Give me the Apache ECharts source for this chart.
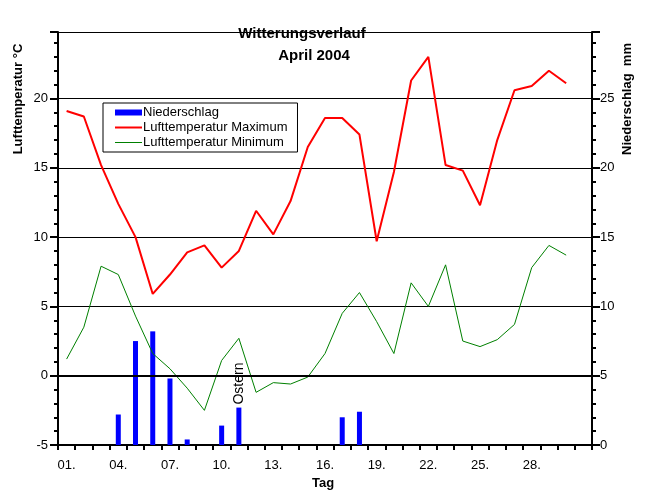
<!DOCTYPE html>
<html>
<head>
<meta charset="utf-8">
<script src="https://cdn.jsdelivr.net/npm/echarts@6/dist/echarts.min.js"></script>
<style>
html,body{margin:0;padding:0;background:#fff;}
#c{width:645px;height:495px;}
</style>
</head>
<body>
<div id="c"></div>
<script>
// ---- data ----
const days = ['01','02','03','04','05','06','07','08','09','10','11','12','13','14','15','16','17','18','19','20','21','22','23','24','25','26','27','28','29','30','31'];
const xTickLabels = ['01.','04.','07.','10.','13.','16.','19.','22.','25.','28.'];
const tempMax = [19.1,18.7,15.2,12.4,10.0,5.9,7.3,8.9,9.4,7.8,9.0,11.9,10.2,12.6,16.5,18.6,18.6,17.4,9.7,14.7,21.3,23.0,15.2,14.8,12.3,17.0,20.6,20.9,22.0,21.1];
const tempMin = [1.2,3.5,7.9,7.3,4.3,1.6,0.5,-0.9,-2.5,1.1,2.7,-1.2,-0.5,-0.6,-0.1,1.6,4.5,6.0,3.9,1.6,6.7,5.0,8.0,2.5,2.1,2.6,3.7,7.8,9.4,8.7];
const precip = [0,0,0,2.2,7.5,8.2,4.8,0.4,0,1.4,2.7,0,0,0,0,0,2.0,2.4,0,0,0,0,0,0,0,0,0,0,0,0];
const tempTicks = [-5,0,5,10,15,20];
const precipTicks = [0,5,10,15,20,25];
const eventDay = '11';
const eventLabel = 'Ostern';
const seriesNames = ['Niederschlag','Lufttemperatur Maximum','Lufttemperatur Minimum'];

const FONT = '"Liberation Sans", Arial, sans-serif';
const chart = echarts.init(document.getElementById('c'), null, {renderer:'canvas'});

const precipData = precip.map((v, i) => {
  if (days[i] === eventDay) {
    return {
      value: v,
      label: {
        show: true, position: 'top', rotate: 90, distance: 3,
        align: 'left', verticalAlign: 'middle',
        formatter: eventLabel, color: '#000', fontSize: 14, fontFamily: FONT
      }
    };
  }
  return v === 0 ? null : v;
});

const option = {
  animation: false,
  backgroundColor: '#fff',
  grid: {left: 58, right: 53, top: 32, bottom: 50, containLabel: false},
  legend: {
    left: 103, top: 103,
    orient: 'vertical',
    backgroundColor: '#fff',
    borderColor: '#000', borderWidth: 1,
    padding: [3, 10, 3, 12],
    itemWidth: 27, itemHeight: 6, itemGap: 2,
    textStyle: {fontSize: 13, fontFamily: FONT, color: '#000', padding: [0,0,0,-4]},
    data: [
      {name: seriesNames[0], icon: 'rect'},
      {name: seriesNames[1], icon: 'path://M0,0H27V2H0Z'},
      {name: seriesNames[2], icon: 'path://M0,0H27V1H0Z'}
    ]
  },
  xAxis: {
    type: 'category',
    data: days,
    boundaryGap: true,
    axisLine: {onZero: false, lineStyle: {color: '#000', width: 2}},
    axisTick: {show: true, interval: 0, length: 5, lineStyle: {color: '#000', width: 2}},
    axisLabel: {
      interval: 0, margin: 14, fontSize: 13, fontFamily: FONT, color: '#000',
      formatter: (v) => xTickLabels.indexOf(v + '.') >= 0 ? v + '.' : ''
    },
    splitLine: {show: false}
  },
  yAxis: [
    {
      type: 'value', min: tempTicks[0], max: 24.8, interval: 5,
      axisLine: {show: true, lineStyle: {color: '#000', width: 2}},
      axisTick: {show: true, length: 8, lineStyle: {color: '#000', width: 2}},
      minorTick: {show: true, splitNumber: 5, length: 4, lineStyle: {color: '#000', width: 2}},
      axisLabel: {margin: 10, fontSize: 13, fontFamily: FONT, color: '#000',
        formatter: (v) => tempTicks.indexOf(v) >= 0 ? String(v) : ''},
      splitLine: {show: true, lineStyle: {color: '#000', width: 1}}
    },
    {
      type: 'value', min: precipTicks[0], max: 29.8, interval: 5, position: 'right',
      axisLine: {show: true, lineStyle: {color: '#000', width: 2}},
      axisTick: {show: true, length: 8, lineStyle: {color: '#000', width: 2}},
      minorTick: {show: true, splitNumber: 5, length: 4, lineStyle: {color: '#000', width: 2}},
      axisLabel: {margin: 8, fontSize: 13, fontFamily: FONT, color: '#000',
        formatter: (v) => precipTicks.indexOf(v) >= 0 ? String(v) : ''},
      splitLine: {show: false}
    }
  ],
  series: [
    {
      name: seriesNames[0], type: 'bar', yAxisIndex: 1,
      data: precipData, barWidth: 5,
      itemStyle: {color: '#0000ff'}
    },
    {
      name: seriesNames[1], type: 'line', yAxisIndex: 0,
      data: tempMax, symbol: 'none',
      lineStyle: {color: '#ff0000', width: 2}, itemStyle: {color: '#ff0000'}
    },
    {
      name: seriesNames[2], type: 'line', yAxisIndex: 0,
      data: tempMin, symbol: 'none',
      lineStyle: {color: '#008000', width: 1}, itemStyle: {color: '#008000'},
      markLine: {
        silent: true, symbol: 'none', label: {show: false},
        lineStyle: {color: '#000', width: 2, type: 'solid'},
        data: [{yAxis: 0}]
      }
    }
  ],
  graphic: [
    {type: 'text', x: 302, y: 34, style: {text: 'Witterungsverlauf', align: 'center', verticalAlign: 'middle', font: 'bold 15px ' + FONT, fill: '#000'}},
    {type: 'text', x: 314, y: 56, style: {text: 'April 2004', align: 'center', verticalAlign: 'middle', font: 'bold 15px ' + FONT, fill: '#000'}},
    {type: 'text', x: 18, y: 99, rotation: Math.PI / 2, style: {text: 'Lufttemperatur °C', align: 'center', verticalAlign: 'middle', font: 'bold 13px ' + FONT, fill: '#000'}},
    {type: 'text', x: 627, y: 99, rotation: Math.PI / 2, style: {text: 'Niederschlag  mm', align: 'center', verticalAlign: 'middle', font: 'bold 13px ' + FONT, fill: '#000'}},
    {type: 'text', x: 323, y: 483, style: {text: 'Tag', align: 'center', verticalAlign: 'middle', font: 'bold 13px ' + FONT, fill: '#000'}}
  ]
};
chart.setOption(option);
</script>
</body>
</html>
